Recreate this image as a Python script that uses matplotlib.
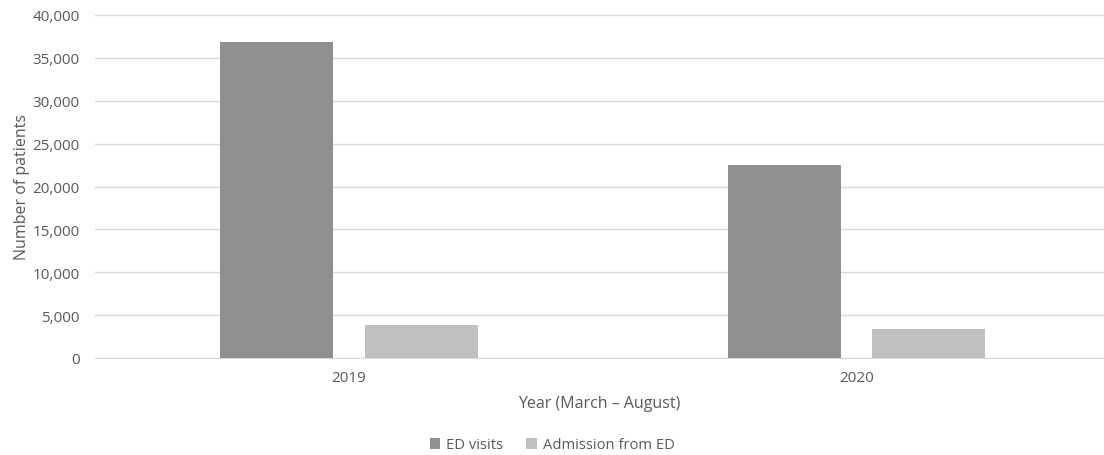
import numpy as np
import matplotlib
matplotlib.use("Agg")
import matplotlib.pyplot as plt
from matplotlib.ticker import FuncFormatter

# data
years = ["2019", "2020"]
ed_visits = [36900, 22550]
admissions = [3800, 3400]
series_names = ["ED visits", "Admission from ED"]

plt.rcParams["font.family"] = ["Open Sans", "DejaVu Sans"]
TXT = "#595959"
GRID = "#d9d9d9"

fig = plt.figure(figsize=(11.04, 4.56), dpi=100)
ax = fig.add_axes([95 / 1104, 1 - 359 / 456, 1 - 95 / 1104, (359 - 16) / 456])

x = np.arange(len(years))
w = 0.223
off = w / 2 + 0.031
ax.bar(x - off, ed_visits, w, color="#8f8f8f", label=series_names[0], zorder=3)
ax.bar(x + off, admissions, w, color="#bfbfbf", label=series_names[1], zorder=3)

ax.set_ylim(0, 40000)
ax.set_yticks(np.arange(0, 40001, 5000))
ax.yaxis.set_major_formatter(FuncFormatter(lambda v, p: f"{int(v):,}"))
ax.set_xlim(-0.5005, 1.4877)
ax.set_xticks(x)
ax.set_xticklabels(years)

ax.grid(axis="y", color=GRID, linewidth=1, zorder=0)
for s in ["top", "right", "left"]:
    ax.spines[s].set_visible(False)
ax.spines["bottom"].set_color(GRID)
ax.tick_params(axis="both", length=0, colors=TXT, labelsize=11)
ax.tick_params(axis="x", pad=9)
ax.tick_params(axis="y", pad=11)

ax.set_ylabel("Number of patients", color=TXT, fontsize=11.5, labelpad=2)
ax.set_xlabel("Year (March \u2013 August)", color=TXT, fontsize=11.5, labelpad=7)

leg = fig.legend(loc="center", bbox_to_anchor=(0.5, 1 - 446 / 456), ncol=2,
                 frameon=False, fontsize=10.6, handlelength=0.7, handleheight=0.7,
                 handletextpad=0.4, columnspacing=1.6)
for t in leg.get_texts():
    t.set_color(TXT)

fig.savefig("out.png", dpi=100)
